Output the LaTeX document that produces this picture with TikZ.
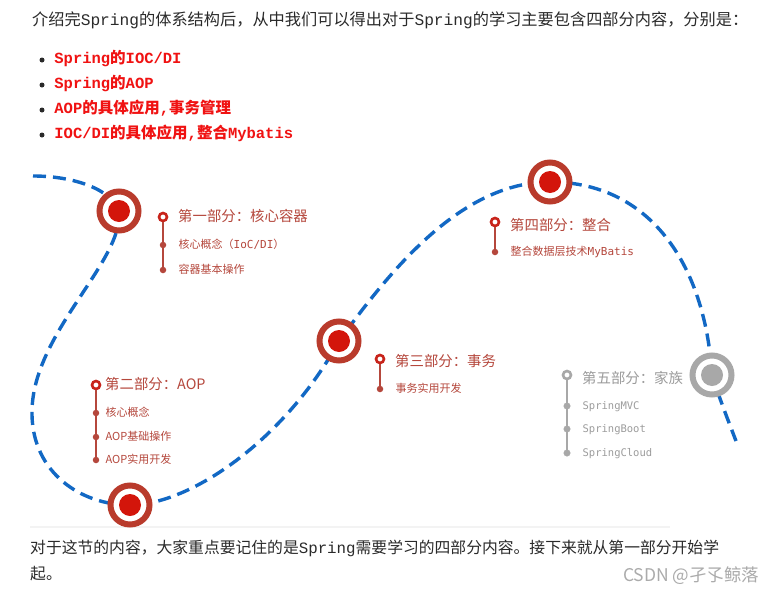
\documentclass[tikz,border=0pt]{standalone}
\usepackage{fontspec}
\setmainfont{Noto Sans CJK SC}
\newfontfamily\monofont{Liberation Mono}
\newfontfamily\codefont{DejaVu Sans Mono}
\usepackage{xcolor}
\usepackage{tikz}
\usetikzlibrary{positioning, backgrounds}
\definecolor{roadBlue}{HTML}{1268C4}
\definecolor{ringRed}{HTML}{B93B2C}
\definecolor{coreRed}{HTML}{D3150B}
\definecolor{labelRed}{HTML}{B5473C}
\definecolor{markRed}{HTML}{C8241B}
\definecolor{hotRed}{HTML}{F01212}
\definecolor{inkGray}{HTML}{2A2A2A}
\definecolor{fadeGray}{HTML}{A8A8A8}
\definecolor{textGray}{HTML}{9C9C9C}
\definecolor{ruleGray}{HTML}{F3F3F3}
\definecolor{waterGray}{HTML}{ABABAB}
\tikzset{
  txt/.style={anchor=west, inner sep=0pt, text height=0.86em, text depth=0.12em},
  para/.style={txt, text=inkGray, font=\fontsize{16}{19}\selectfont},
  point/.style={txt, text=hotRed, font=\fontsize{15.5}{18}\selectfont\bfseries},
  ttl/.style={txt, text=labelRed, font=\fontsize{14.4}{17}\selectfont},
  sub/.style={txt, text=labelRed, font=\fontsize{11}{13}\selectfont},
  dot/.style={circle, fill=inkGray, minimum size=5pt, inner sep=0pt},
  ring/.style={circle, draw=ringRed, line width=6pt, fill=white, minimum size=39pt, inner sep=0pt},
  core/.style={circle, fill=coreRed, minimum size=22pt, inner sep=0pt},
  hollow/.style={circle, draw=markRed, line width=2.6pt, fill=white, minimum size=8pt, inner sep=0pt},
  knot/.style={circle, fill=labelRed, minimum size=6.5pt, inner sep=0pt},
  stem/.style={labelRed, line width=1.9pt},
  route/.style={roadBlue, line width=3.4pt, dash pattern=on 13pt off 7pt},
  faded/.style={draw=fadeGray, fill=fadeGray, text=textGray}
}

\begin{document}
\begin{tikzpicture}[x=1pt, y=-1pt]
\useasboundingbox (0,0) rectangle (776,597);

% intro text and list
\node[para, font=\fontsize{16.2}{19}\selectfont] (intro) at (32,22) {介绍完{\monofont Spring}的体系结构后，从中我们可以得出对于{\monofont Spring}的学习主要包含四部分内容，分别是：};
\node[dot] (b1) at (42,60) {};
\node[dot] (b2) at (42,85) {};
\node[dot] (b3) at (42,110) {};
\node[dot] (b4) at (42,135) {};
\node[point, right=9.5pt of b1] (p1) {{\monofont Spring}的{\monofont IOC/DI}};
\node[point, right=9.5pt of b2] (p2) {{\monofont Spring}的{\monofont AOP}};
\node[point, right=9.5pt of b3] (p3) {{\monofont AOP}的具体应用{\monofont ,}事务管理};
\node[point, right=9.5pt of b4] (p4) {{\monofont IOC/DI}的具体应用{\monofont ,}整合{\monofont Mybatis}};

% stations on the road
\node[ring] (c1) at (119,211) {};
\node[ring] (c2) at (130,505) {};
\node[ring] (c3) at (339,341) {};
\node[ring] (c4) at (550,182) {};
\node[ring, draw=fadeGray] (c5) at (712,375) {};
\node[core] at (c1) {};
\node[core] at (c2) {};
\node[core] at (c3) {};
\node[core] at (c4) {};
\node[core, fill=fadeGray] at (c5) {};
\coordinate (s0) at (33,176);
\coordinate (s6) at (736,441);

% part 1
\node[hollow] (m1) at (163,217) {};
\node[knot] (k11) at (163,245) {};
\node[knot] (k12) at (163,270) {};
\draw[stem] (m1) -- (k12);
\node[ttl] (t1) at (178,218) {第一部分：核心容器};
\node[sub, right=12pt of k11] {核心概念（{\codefont IoC/DI}）};
\node[sub, right=12pt of k12] {容器基本操作};

% part 2
\node[hollow] (m2) at (96,385) {};
\node[knot] (k21) at (96,413) {};
\node[knot] (k22) at (96,437) {};
\node[knot] (k23) at (96,460) {};
\draw[stem] (m2) -- (k23);
\node[ttl] (t2) at (105,386) {第二部分：AOP};
\node[sub, right=6pt of k21] {核心概念};
\node[sub, right=6pt of k22] {AOP基础操作};
\node[sub, right=6pt of k23] {AOP实用开发};

% part 3
\node[hollow] (m3) at (380,359) {};
\node[knot] (k31) at (380,389) {};
\draw[stem] (m3) -- (k31);
\node[ttl] (t3) at (395,363) {第三部分：事务};
\node[sub, right=12pt of k31] {事务实用开发};

% part 4
\node[hollow] (m4) at (495,222) {};
\node[knot] (k41) at (495,252) {};
\draw[stem] (m4) -- (k41);
\node[ttl] (t4) at (510,227) {第四部分：整合};
\node[sub, right=12pt of k41] {整合数据层技术{\codefont MyBatis}};

% part 5
\node[hollow, draw=fadeGray] (m5) at (567,375) {};
\node[knot, faded] (k51) at (567,406) {};
\node[knot, faded] (k52) at (567,429) {};
\node[knot, faded] (k53) at (567,453) {};
\draw[stem, fadeGray] (m5) -- (k53);
\node[ttl, text=textGray] (t5) at (582,380) {第五部分：家族};
\node[sub, text=textGray, font=\fontsize{10.5}{13}\codefont, right=12pt of k51] {SpringMVC};
\node[sub, text=textGray, font=\fontsize{10.5}{13}\codefont, right=12pt of k52] {SpringBoot};
\node[sub, text=textGray, font=\fontsize{10.5}{13}\codefont, right=12pt of k53] {SpringCloud};

% closing text
\node[para, font=\fontsize{15.8}{19}\selectfont] (outro1) at (30,550) {对于这节的内容，大家重点要记住的是{\monofont Spring}需要学习的四部分内容。接下来就从第一部分开始学};
\node[para, font=\fontsize{15.8}{19}\selectfont] (outro2) at (30,576) {起。};
\node[para, text=waterGray, font=\fontsize{17.5}{20}\selectfont] (mark) at (623,578) {CSDN @孑孓鲸落};

\begin{scope}[on background layer]
  \fill[white] (0,0) rectangle (776,597);
  \draw[ruleGray, line width=1.5pt] (30,527) -- (670,527);
  \draw[route] (s0) .. controls (75,176) and (112,190) .. (c1.center)
    .. controls (124,262) and (30,335) .. (32,415)
    .. controls (33,472) and (80,505) .. (c2.center)
    .. controls (190,505) and (285,440) .. (c3.center)
    .. controls (392,268) and (462,182) .. (c4.center)
    .. controls (648,182) and (705,262) .. (c5.center)
    .. controls (720,400) and (728,420) .. (s6);
\end{scope}
\end{tikzpicture}
\end{document}
